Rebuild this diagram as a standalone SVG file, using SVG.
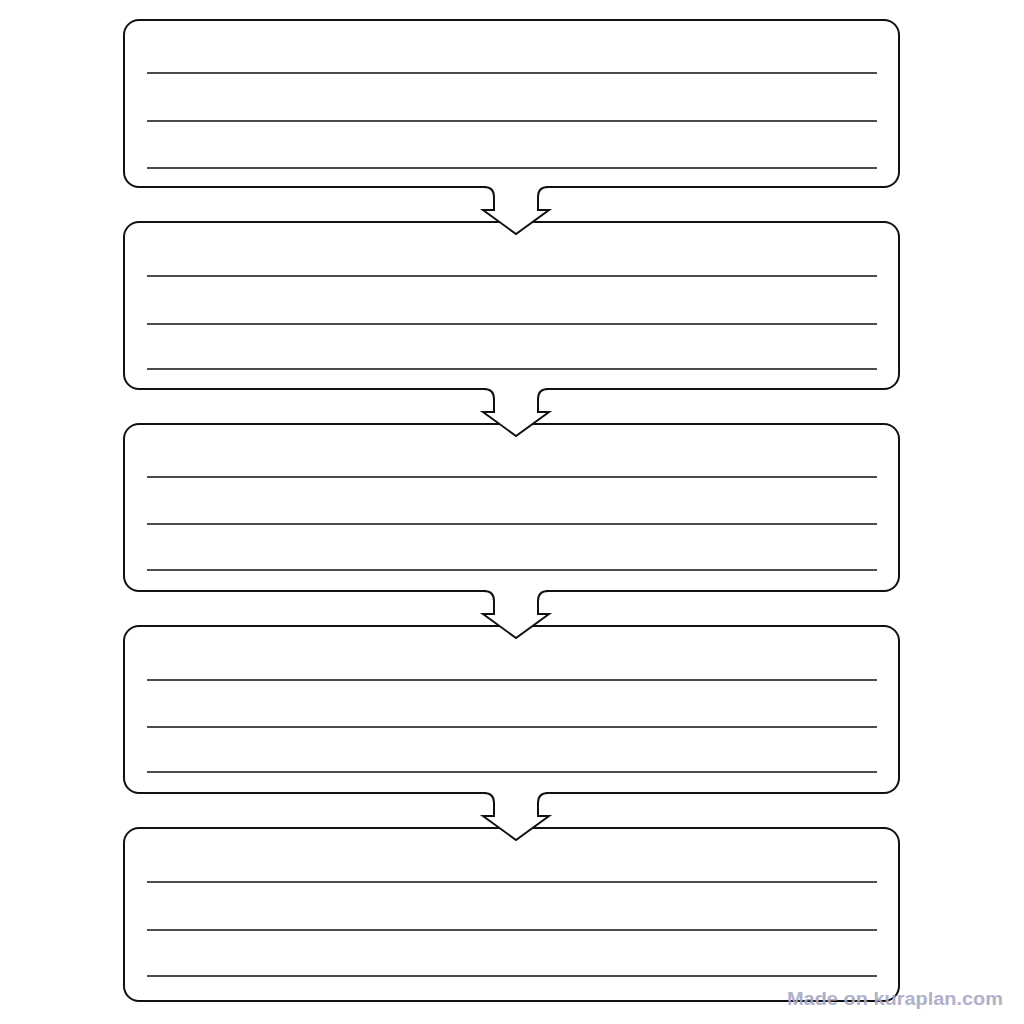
<svg xmlns="http://www.w3.org/2000/svg" width="1024" height="1024" viewBox="0 0 1024 1024">
<style>
.box{fill:#fff;stroke:#111;stroke-width:2}
.rule{stroke:#111;stroke-width:1.6}
.arrow{fill:#fff;stroke:#111;stroke-width:2;stroke-linejoin:miter}
.mask{fill:#fff}
.wm{font-family:"Liberation Sans",Arial,sans-serif;font-weight:bold;font-size:18px;fill:#a8a8c4;opacity:0.9}
</style>
<defs>
<g id="arr">
<rect class="mask" x="486" y="183" width="60" height="8"/>
<path class="arrow" d="M484 187 Q494 187 494 197 L494 210 L483 210 L516 234 L549 210 L538 210 L538 197 Q538 187 548 187"/>
</g>
</defs>
<rect width="1024" height="1024" fill="#fff"/>
<g id="box1">
<rect class="box" x="124" y="20" width="775" height="167" rx="15"/>
<line class="rule" x1="147" y1="73" x2="877" y2="73"/>
<line class="rule" x1="147" y1="121" x2="877" y2="121"/>
<line class="rule" x1="147" y1="168" x2="877" y2="168"/>
</g>
<g id="box2">
<rect class="box" x="124" y="222" width="775" height="167" rx="15"/>
<line class="rule" x1="147" y1="276" x2="877" y2="276"/>
<line class="rule" x1="147" y1="324" x2="877" y2="324"/>
<line class="rule" x1="147" y1="369" x2="877" y2="369"/>
</g>
<g id="box3">
<rect class="box" x="124" y="424" width="775" height="167" rx="15"/>
<line class="rule" x1="147" y1="477" x2="877" y2="477"/>
<line class="rule" x1="147" y1="524" x2="877" y2="524"/>
<line class="rule" x1="147" y1="570" x2="877" y2="570"/>
</g>
<g id="box4">
<rect class="box" x="124" y="626" width="775" height="167" rx="15"/>
<line class="rule" x1="147" y1="680" x2="877" y2="680"/>
<line class="rule" x1="147" y1="727" x2="877" y2="727"/>
<line class="rule" x1="147" y1="772" x2="877" y2="772"/>
</g>
<g id="box5">
<rect class="box" x="124" y="828" width="775" height="173" rx="15"/>
<line class="rule" x1="147" y1="882" x2="877" y2="882"/>
<line class="rule" x1="147" y1="930" x2="877" y2="930"/>
<line class="rule" x1="147" y1="976" x2="877" y2="976"/>
</g>
<g id="connectors">
<use href="#arr"/>
<use href="#arr" y="202"/>
<use href="#arr" y="404"/>
<use href="#arr" y="606"/>
</g>
<text class="wm" x="787" y="1005" textLength="216" lengthAdjust="spacingAndGlyphs">Made on kuraplan.com</text>
</svg>
